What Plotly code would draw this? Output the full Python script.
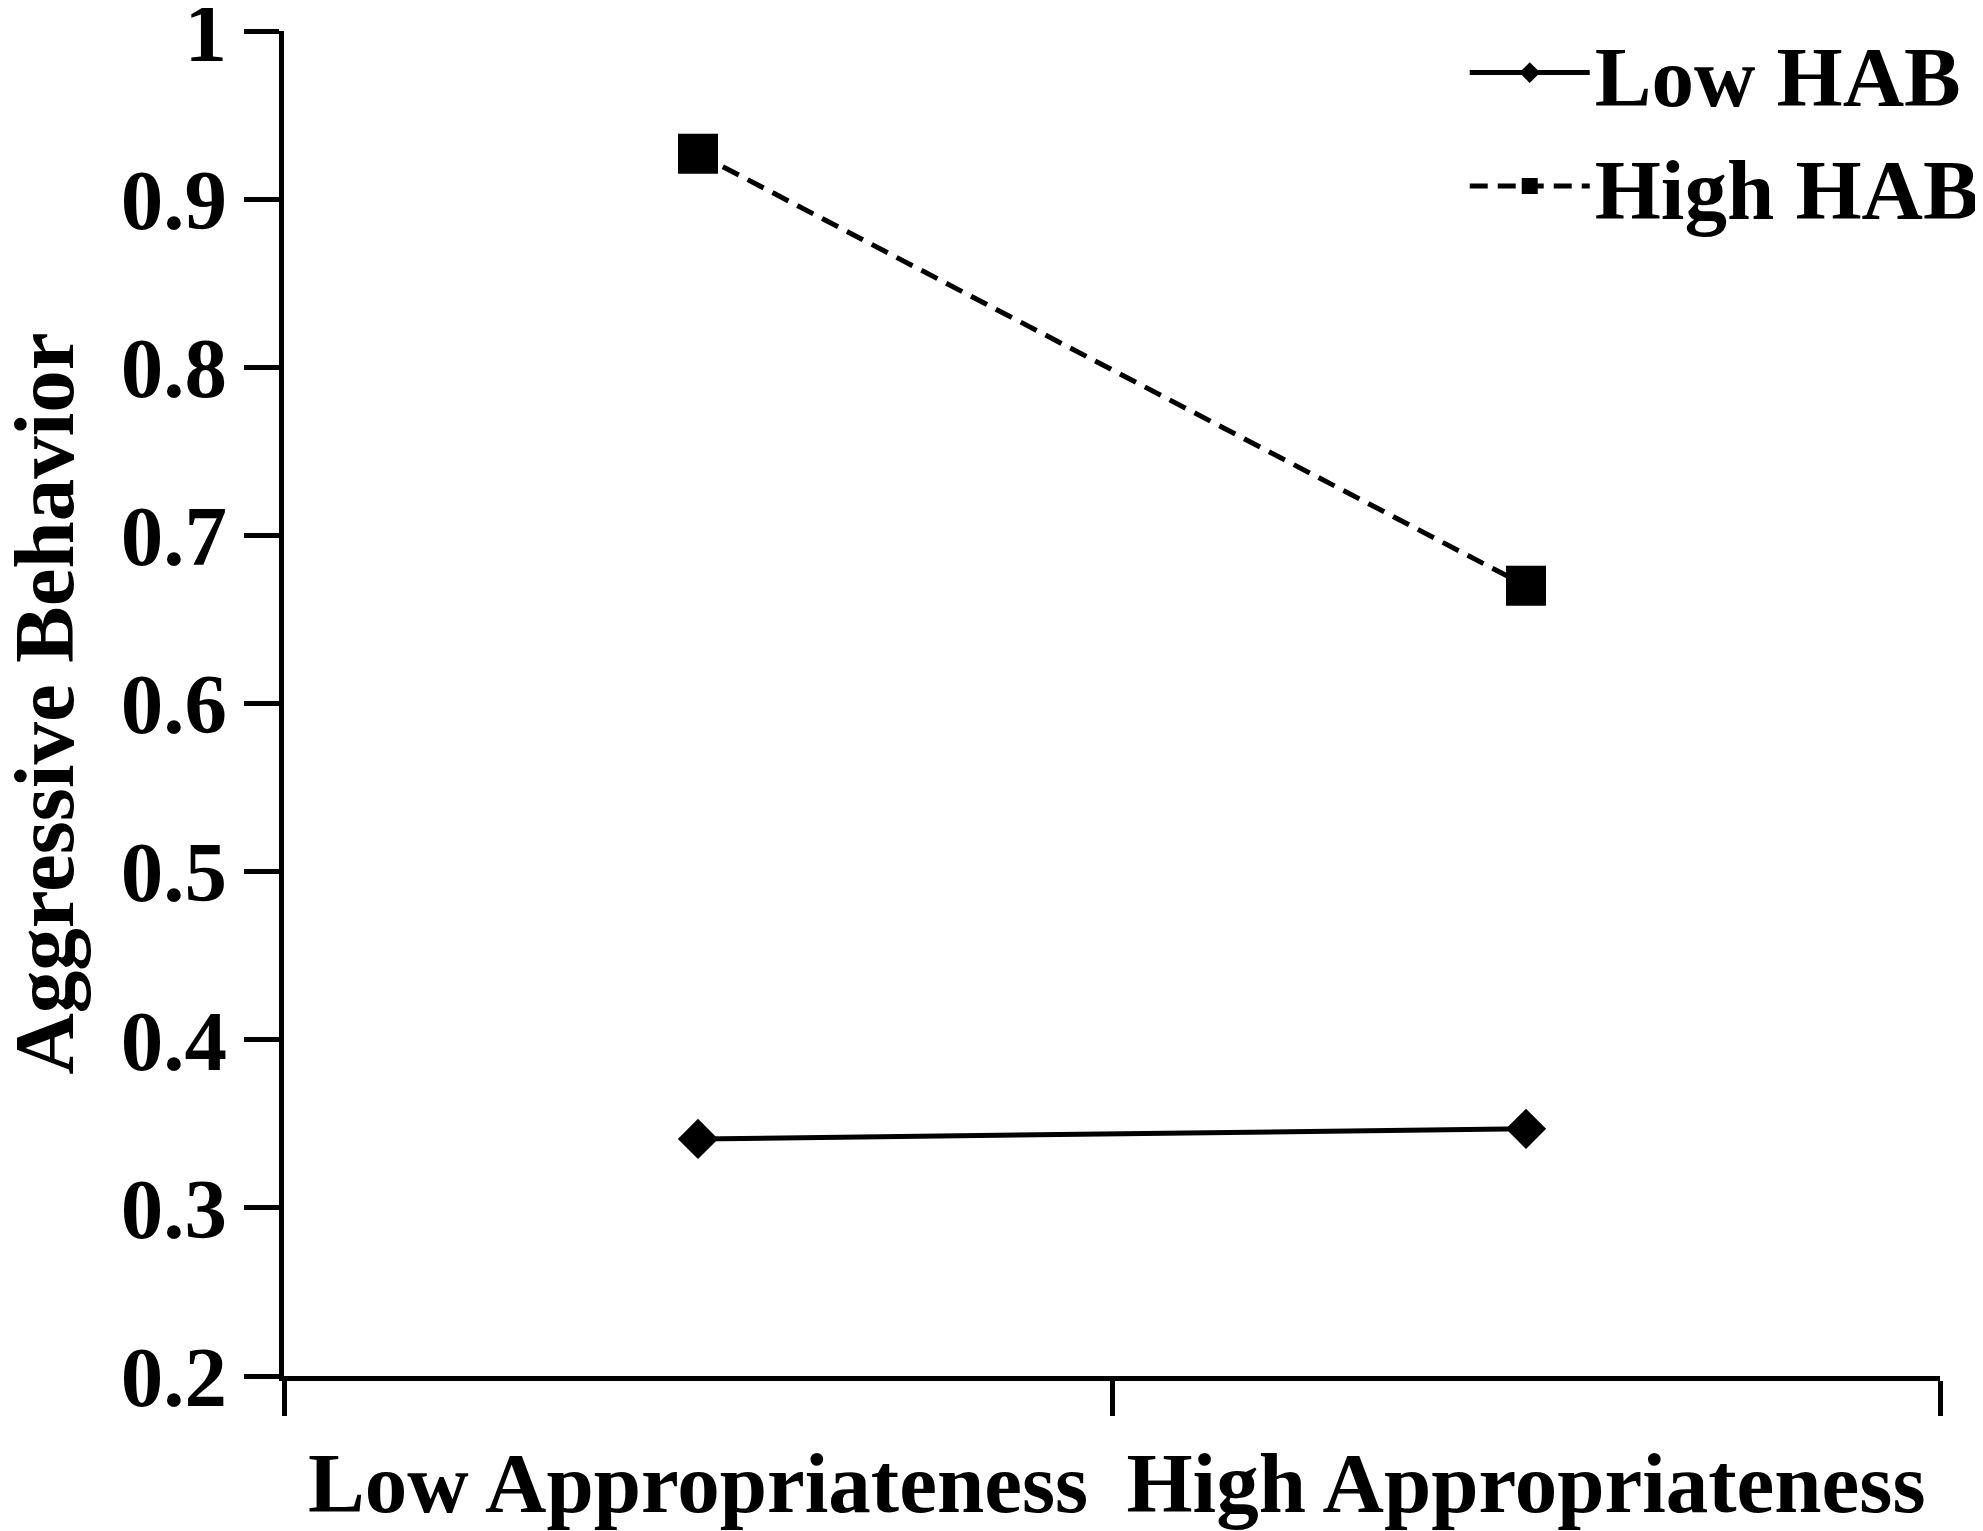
import plotly.graph_objects as go

# categories on the x axis
conditions = ["Low Appropriateness", "High Appropriateness"]

# series values (aggressive behavior)
low_hab = [0.341, 0.347]
high_hab = [0.927, 0.670]

# y tick labels
y_ticks = [0.2, 0.3, 0.4, 0.5, 0.6, 0.7, 0.8, 0.9, 1.0]
y_tick_text = ["0.2", "0.3", "0.4", "0.5", "0.6", "0.7", "0.8", "0.9", "1"]

FONT = "Liberation Serif, Times New Roman, serif"
big_font = dict(family=FONT, size=85, color="black", weight="bold")

fig = go.Figure()

fig.add_trace(go.Scatter(
    x=conditions, y=low_hab,
    mode="lines+markers",
    name="Low HAB",
    line=dict(color="black", width=5),
    marker=dict(symbol="diamond", size=31, color="black"),
))

fig.add_trace(go.Scatter(
    x=conditions, y=high_hab,
    mode="lines+markers",
    name="High HAB",
    line=dict(color="black", width=5, dash="18px,10px"),
    marker=dict(symbol="square", size=40, color="black"),
))

fig.update_layout(
    width=1983, height=1531,
    margin=dict(l=276, r=51, t=23, b=163, autoexpand=False),
    paper_bgcolor="white",
    plot_bgcolor="white",
    font=big_font,
    showlegend=True,
    legend=dict(
        x=0.713, y=1.015, xanchor="left", yanchor="top",
        font=big_font,
        itemwidth=120,
        bgcolor="rgba(0,0,0,0)",
        tracegroupgap=0,
    ),
    # y axis title, placed by hand next to the tick labels
    annotations=[dict(
        text="Aggressive Behavior",
        xref="paper", yref="paper",
        x=-0.1455, y=0.5,
        xanchor="center", yanchor="middle",
        textangle=-90,
        showarrow=False,
        font=big_font,
    )],
)

fig.update_xaxes(
    type="category",
    categoryorder="array", categoryarray=conditions,
    range=[-0.5, 1.5],
    tickson="boundaries",
    ticks="outside", ticklen=35, tickwidth=5, tickcolor="black",
    showline=True, linecolor="black", linewidth=5,
    showgrid=False, zeroline=False,
    tickfont=big_font,
    ticklabelstandoff=29,
    automargin=False,
)

fig.update_yaxes(
    range=[0.2, 1.0],
    tickvals=y_ticks, ticktext=y_tick_text,
    ticks="outside", ticklen=35, tickwidth=5, tickcolor="black",
    showline=True, linecolor="black", linewidth=5,
    showgrid=False, zeroline=False,
    tickfont=big_font,
    ticklabeloverflow="allow",
    automargin=False,
)

fig.write_html("out.html")
